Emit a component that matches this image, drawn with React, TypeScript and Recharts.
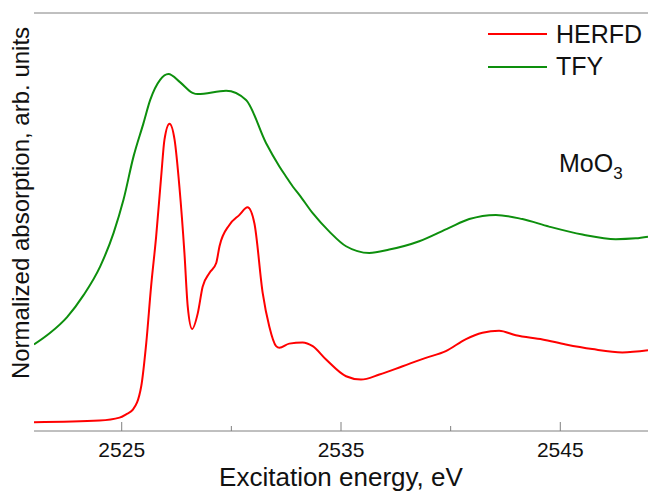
import React from "react";
import { LineChart, Line, XAxis, YAxis, ReferenceLine } from "recharts";

// HERFD spectrum (photon energy in eV, normalized absorption)
const herfdEnergy = [
  2521.0, 2523.99, 2524.9, 2525.2, 2525.51, 2525.89, 2526.12, 2526.34, 2526.57, 2526.8,
  2526.95, 2527.18, 2527.41, 2527.63, 2527.86, 2528.01, 2528.21, 2528.47, 2528.69, 2529.0,
  2529.31, 2529.46, 2529.91, 2530.37, 2530.74, 2531.05, 2531.43, 2531.73, 2532.04, 2532.19,
  2532.64, 2533.25, 2533.71, 2534.32, 2535.23, 2535.91, 2536.75, 2537.81, 2538.87, 2539.78,
  2540.7, 2541.45, 2542.21, 2542.97, 2544.19, 2545.25, 2546.46, 2547.83, 2549.0,
];
const herfdValue = [
  0.021, 0.025, 0.032, 0.04, 0.051, 0.107, 0.211, 0.346, 0.465, 0.609,
  0.697, 0.735, 0.697, 0.585, 0.426, 0.298, 0.244, 0.282, 0.345, 0.378,
  0.402, 0.442, 0.493, 0.517, 0.535, 0.497, 0.33, 0.25, 0.203, 0.199,
  0.209, 0.212, 0.203, 0.171, 0.131, 0.123, 0.135, 0.155, 0.175, 0.191,
  0.22, 0.235, 0.24, 0.229, 0.219, 0.207, 0.196, 0.188, 0.193,
];

// TFY spectrum, offset upwards
const tfyEnergy = [
  2521.0, 2521.74, 2522.5, 2523.26, 2524.02, 2524.63, 2525.08, 2525.54, 2525.99, 2526.3,
  2526.75, 2527.13, 2527.67, 2528.23, 2528.47, 2529.76, 2530.67, 2531.58, 2532.19, 2532.49,
  2532.8, 2533.1, 2533.71, 2534.47, 2535.23, 2536.29, 2537.2, 2538.57, 2539.93, 2540.85,
  2542.06, 2543.27, 2544.49, 2546.01, 2547.53, 2548.44, 2549.0,
];
const tfyValue = [
  0.207, 0.235, 0.272, 0.325, 0.394, 0.474, 0.553, 0.657, 0.736, 0.792,
  0.84, 0.854, 0.834, 0.809, 0.806, 0.814, 0.792, 0.689, 0.633, 0.609,
  0.585, 0.565, 0.521, 0.477, 0.442, 0.426, 0.434, 0.454, 0.486, 0.507,
  0.517, 0.507, 0.489, 0.47, 0.459, 0.461, 0.465,
];

const energyTicks = [2525, 2530, 2535, 2540, 2545];
const labelledTicks = [2525, 2535, 2545];

const herfdData = herfdEnergy.map((e, i) => ({ e, v: herfdValue[i] }));
const tfyData = tfyEnergy.map((e, i) => ({ e, v: tfyValue[i] }));

const font = "'Liberation Sans', Arial, sans-serif";
const axisGray = "#808080";
const red = "#ff0000";
const green = "#0d8f0d";

// ticks point inwards; only every other one carries a label
function EnergyTick(props: any) {
  const { x, y, payload } = props;
  const major = labelledTicks.includes(payload.value);
  return (
    <g>
      <line x1={x} x2={x} y1={y} y2={y - (major ? 9 : 5)} stroke={axisGray} />
      {major && (
        <text x={x} y={y + 26} textAnchor="middle" fontSize={21} fontFamily={font} fill="#111">
          {payload.value}
        </text>
      )}
    </g>
  );
}

export default function App() {
  return (
    <div style={{ width: 648, height: 492 }}>
      <style>{"body{margin:0}"}</style>
      <LineChart width={648} height={492} margin={{ top: 13, right: 0, left: 34, bottom: 0 }}>
        <XAxis
          type="number"
          dataKey="e"
          domain={[2521, 2549]}
          allowDataOverflow
          ticks={energyTicks}
          interval={0}
          tickSize={0}
          tickMargin={0}
          tickLine={false}
          tick={<EnergyTick />}
          height={61}
          axisLine={{ stroke: axisGray }}
        />
        <YAxis
          type="number"
          domain={[0, 1]}
          allowDataOverflow
          width={0}
          tick={false}
          tickLine={false}
          axisLine={{ stroke: axisGray }}
        />
        <ReferenceLine y={1} stroke={axisGray} />
        <Line
          data={tfyData}
          dataKey="v"
          type="monotone"
          stroke={green}
          strokeWidth={2}
          dot={false}
          isAnimationActive={false}
        />
        <Line
          data={herfdData}
          dataKey="v"
          type="monotone"
          stroke={red}
          strokeWidth={2}
          dot={false}
          isAnimationActive={false}
        />

        {/* legend */}
        <line x1={488} x2={547} y1={34} y2={34} stroke={red} strokeWidth={2} />
        <text x={556} y={43} fontSize={25} fontFamily={font} fill="#111">HERFD</text>
        <line x1={488} x2={547} y1={67} y2={67} stroke={green} strokeWidth={2} />
        <text x={556} y={75} fontSize={25} fontFamily={font} fill="#111">TFY</text>

        <text x={559} y={172} fontSize={25} fontFamily={font} fill="#111">
          MoO<tspan fontSize={17} dy={7}>3</tspan>
        </text>

        <text x={341} y={486} textAnchor="middle" fontSize={26} fontFamily={font} fill="#111">
          Excitation energy, eV
        </text>
        <text
          transform="translate(29,203) rotate(-90)"
          textAnchor="middle"
          fontSize={24}
          fontFamily={font}
          fill="#111"
        >
          Normalized absorption, arb. units
        </text>
      </LineChart>
    </div>
  );
}
